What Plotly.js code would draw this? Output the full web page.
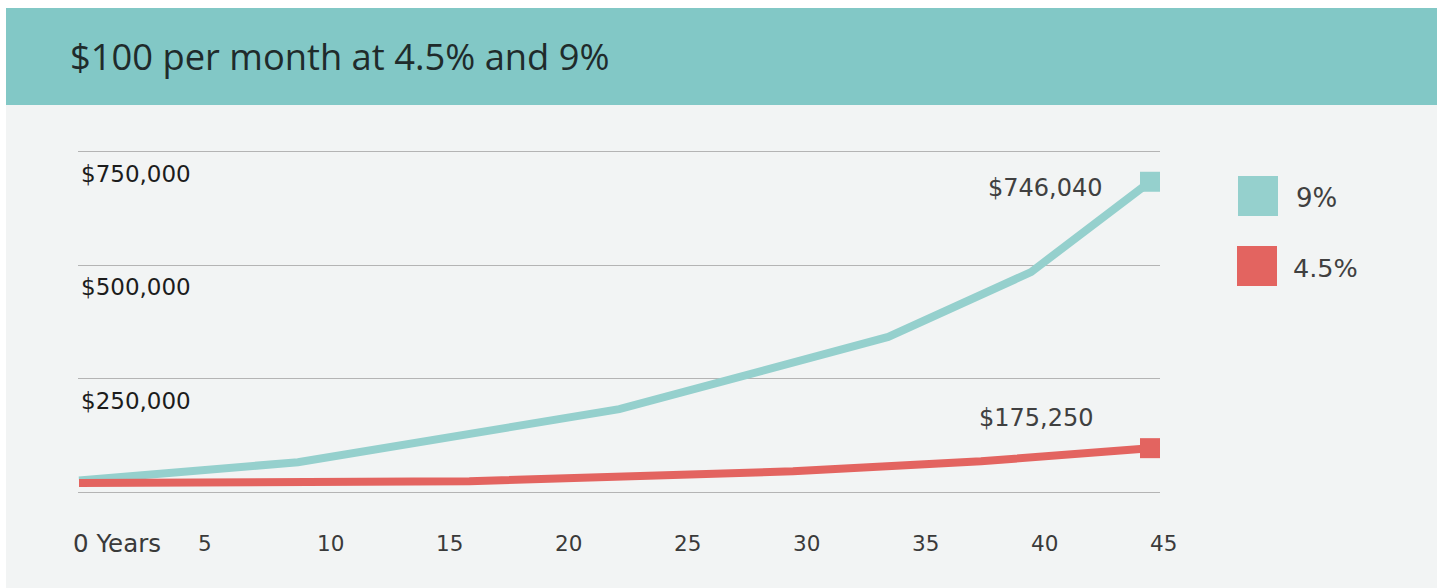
<!DOCTYPE html>
<html>
<head>
<meta charset="utf-8">
<script src="https://cdn.plot.ly/plotly-3.0.1.min.js"></script>
<style>
  html, body { margin: 0; padding: 0; background: #ffffff; }
  #chart { width: 1437px; height: 588px; }
</style>
</head>
<body>
<div id="chart"></div>
<script>
// ---- data ----
const chartTitle = "$100 per month at 4.5% and 9%";
const seriesNames = ["9%", "4.5%"];
const years9 = [0, 9.2, 22.7, 34, 40, 45];
const values9 = [26000, 66000, 183000, 342000, 485000, 684000];
const years45 = [0, 16.4, 30, 37.9, 45];
const values45 = [20000, 24000, 46000, 68000, 97000];
const endLabels = ["$746,040", "$175,250"];
const xTickVals = [0, 5, 10, 15, 20, 25, 30, 35, 40, 45];
const xTickText = ["0 Years", "5", "10", "15", "20", "25", "30", "35", "40", "45"];
const yTickVals = [0, 250000, 500000, 750000];
const yTickText = ["", "$250,000", "$500,000", "$750,000"];

// ---- styling ----
const W = 1437, H = 588;
const M = { l: 78, r: 277, t: 145, b: 89 };
const PW = W - M.l - M.r, PH = H - M.t - M.b;
const teal = "#95D0CD", red = "#E36460", band = "#82C8C6", card = "#F2F4F4";
const px = v => (v - M.l) / PW;
const py = v => (H - M.b - v) / PH;
const FONT = "DejaVu Sans";
const TICKC = "#3a3a3a";

const last = a => a[a.length - 1];

const traces = [
  { x: years9, y: values9, mode: "lines", line: { color: teal, width: 8 }, name: seriesNames[0], showlegend: false, hoverinfo: "skip" },
  { x: years45, y: values45, mode: "lines", line: { color: red, width: 8 }, name: seriesNames[1], showlegend: false, hoverinfo: "skip" },
  { x: [last(years9)], y: [last(values9)], mode: "markers", marker: { symbol: "square", size: 20, color: teal }, showlegend: false, cliponaxis: false, hoverinfo: "skip" },
  { x: [last(years45)], y: [last(values45)], mode: "markers", marker: { symbol: "square", size: 20, color: red }, showlegend: false, cliponaxis: false, hoverinfo: "skip" }
];

const shapes = [
  { type: "rect", xref: "paper", yref: "paper", layer: "below", x0: px(6), x1: px(W + 5), y0: py(H + 5), y1: py(8), fillcolor: card, line: { width: 0 } },
  { type: "rect", xref: "paper", yref: "paper", layer: "below", x0: px(6), x1: px(W + 5), y0: py(105), y1: py(8), fillcolor: band, line: { width: 0 } },
  { type: "rect", xref: "paper", yref: "paper", x0: px(1238), x1: px(1278), y0: py(216), y1: py(176), fillcolor: teal, line: { width: 0 } },
  { type: "rect", xref: "paper", yref: "paper", x0: px(1237), x1: px(1277), y0: py(286), y1: py(246), fillcolor: red, line: { width: 0 } }
];

const annotations = [
  { x: last(years9), y: last(values9), xref: "x", yref: "y", text: endLabels[0], showarrow: false, xanchor: "right", yanchor: "middle", xshift: -45, yshift: -6, font: { family: FONT, size: 24, color: "#404040" } },
  { x: last(years45), y: last(values45), xref: "x", yref: "y", text: endLabels[1], showarrow: false, xanchor: "right", yanchor: "middle", xshift: -54, yshift: 30, font: { family: FONT, size: 24, color: "#404040" } },
  { x: px(1294), y: py(198), xref: "paper", yref: "paper", text: seriesNames[0], showarrow: false, xanchor: "left", yanchor: "middle", font: { family: FONT, size: 26, color: "#404040" } },
  { x: px(1291), y: py(268), xref: "paper", yref: "paper", text: seriesNames[1], showarrow: false, xanchor: "left", yanchor: "middle", font: { family: FONT, size: 25.5, color: "#404040" } },
  // first x tick label, left-aligned at the start of the axis
  { x: xTickVals[0], y: py(543), xref: "x", yref: "paper", text: xTickText[0], showarrow: false, xanchor: "left", yanchor: "middle", xshift: -8, font: { family: FONT, size: 24.5, color: TICKC } }
];

const layout = {
  width: W, height: H,
  margin: M,
  paper_bgcolor: "#ffffff",
  plot_bgcolor: "rgba(0,0,0,0)",
  showlegend: false,
  title: {
    text: chartTitle,
    xref: "container", yref: "container",
    x: 70 / W, xanchor: "left",
    y: 1 - 57 / H, yanchor: "middle",
    font: { family: "Open Sans", size: 36.3, color: "#1f2b2b" }
  },
  xaxis: {
    range: [-1 / 23.8, 45 + 10 / 23.8],
    tickvals: xTickVals.slice(1), ticktext: xTickText.slice(1),
    ticklabelposition: "outside right",
    showgrid: false, zeroline: false, showline: false,
    ticks: "", ticklabelstandoff: 29,
    tickfont: { family: FONT, size: 21.5, color: TICKC },
    fixedrange: true
  },
  yaxis: {
    range: [-15000, 765000],
    tickvals: yTickVals, ticktext: yTickText,
    ticklabelposition: "inside bottom",
    ticklabelshift: 6,
    showgrid: true, gridcolor: "#b4b4b4", gridwidth: 1.3,
    zeroline: false, showline: false, ticks: "",
    tickfont: { family: FONT, size: 23, color: "#1c1c1c" },
    fixedrange: true
  },
  shapes: shapes,
  annotations: annotations
};

Plotly.newPlot("chart", traces, layout, { staticPlot: true, displayModeBar: false });
</script>
</body>
</html>
